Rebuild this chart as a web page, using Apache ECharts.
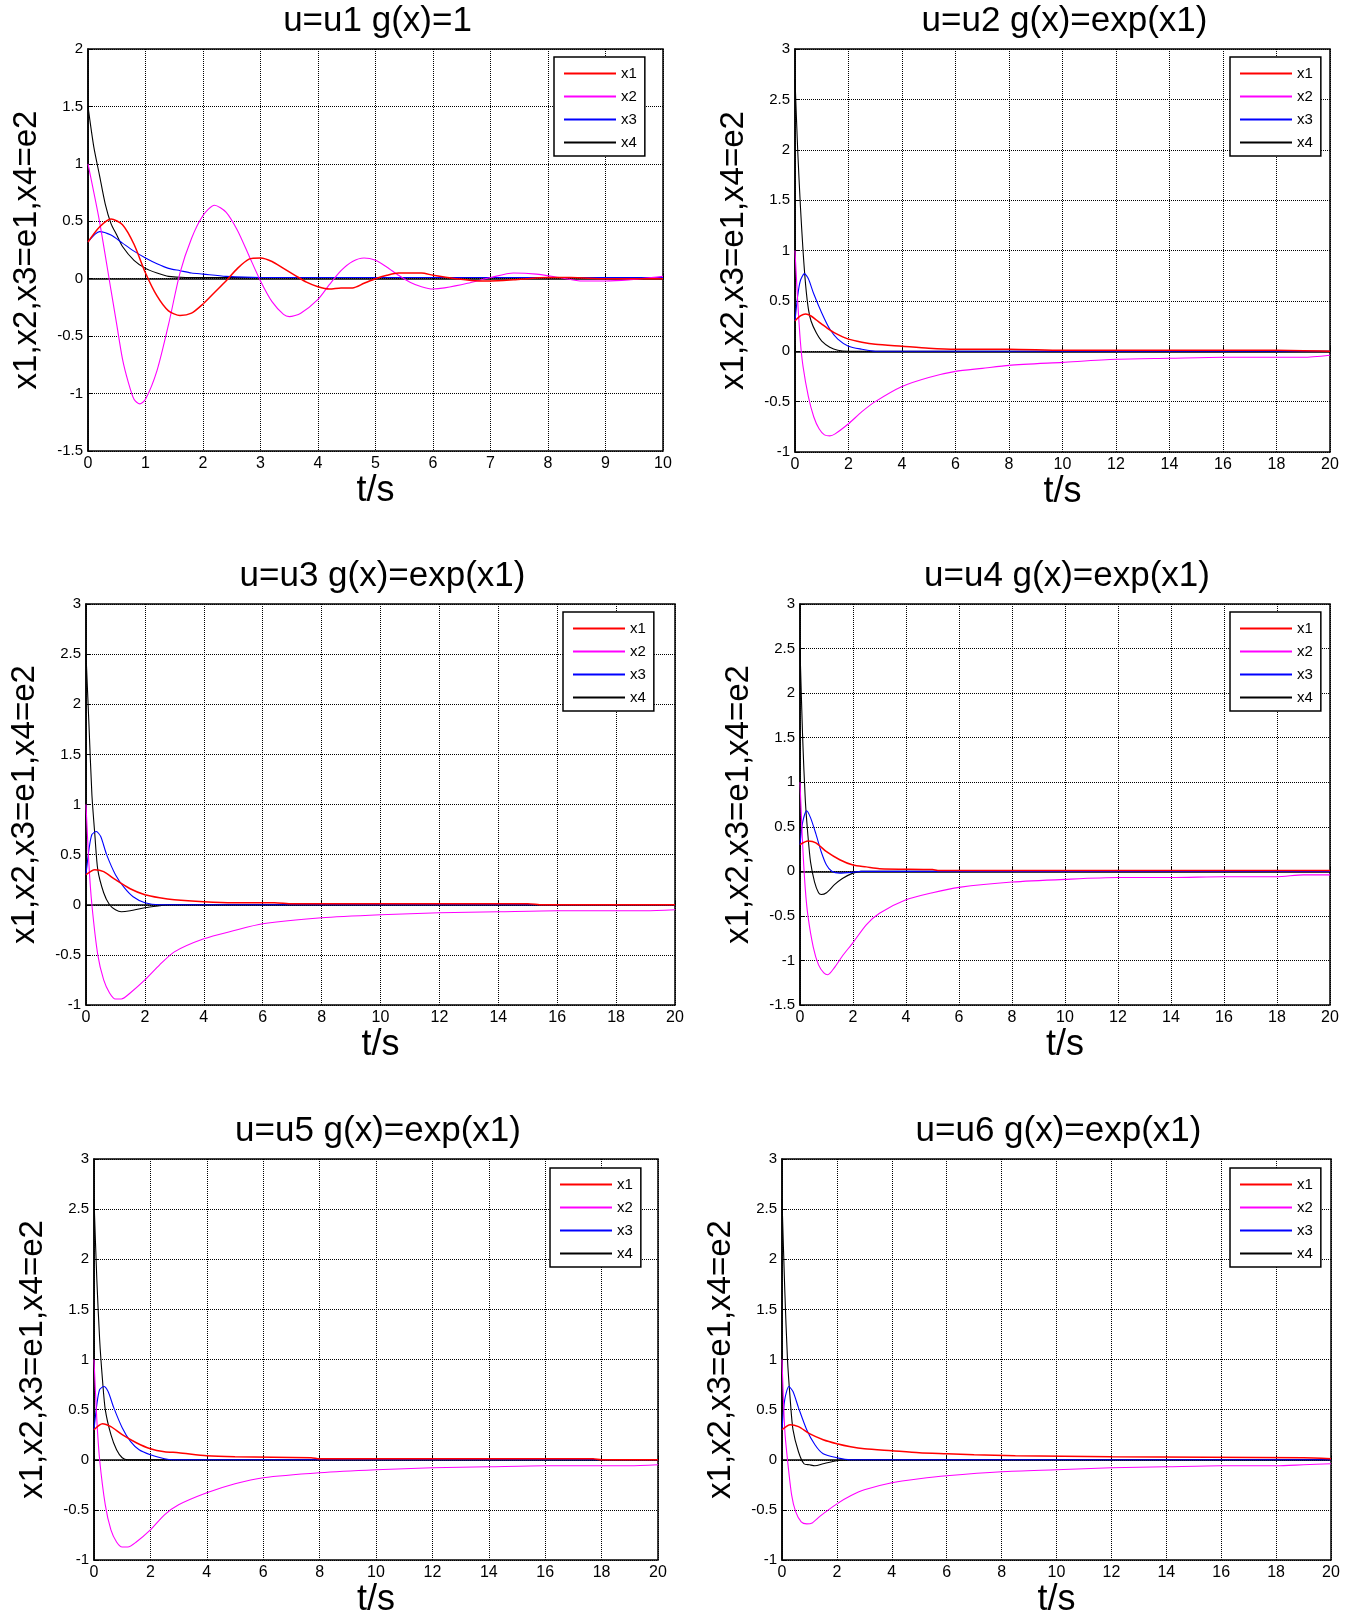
<!DOCTYPE html>
<html>
<head>
<meta charset="utf-8">
<script src="https://cdn.jsdelivr.net/npm/echarts@6/dist/echarts.min.js"></script>
<style>
  html, body { margin: 0; padding: 0; background: #fff; }
  #main { width: 1360px; height: 1624px; }
</style>
</head>
<body>
<div id="main"></div>
<script>
// series names shared by every panel
var names = ['x1', 'x2', 'x3', 'x4'];
var colors = ['#ff0000', '#ff00ff', '#0000ff', '#000000'];

// panel 1: u=u1 g(x)=1, t in [0,10]
var p1x1 = [[0,0.32],[0.2,0.45],[0.4,0.52],[0.6,0.47],[0.8,0.3],[1.0,0.05],[1.2,-0.15],[1.4,-0.28],[1.6,-0.32],[1.8,-0.3],[2.0,-0.22],[2.2,-0.12],[2.4,-0.02],[2.6,0.09],[2.8,0.17],[3.0,0.18],[3.2,0.15],[3.4,0.09],[3.6,0.03],[3.8,-0.03],[4.0,-0.07],[4.2,-0.09],[4.4,-0.08],[4.6,-0.08],[4.8,-0.04],[5.0,0],[5.2,0.03],[5.4,0.05],[5.8,0.05],[6.0,0.03],[6.4,0.0],[6.8,-0.02],[7.0,-0.02],[7.4,-0.01],[8.0,0.01],[8.4,0.01],[9.0,0],[10,0]];
var p1x2 = [[0,1.0],[0.2,0.5],[0.4,-0.1],[0.5,-0.4],[0.6,-0.7],[0.7,-0.9],[0.8,-1.05],[0.9,-1.09],[1.0,-1.05],[1.2,-0.8],[1.4,-0.4],[1.6,0.05],[1.8,0.35],[2.0,0.55],[2.2,0.64],[2.4,0.58],[2.6,0.42],[2.8,0.2],[3.0,-0.02],[3.2,-0.2],[3.4,-0.31],[3.5,-0.33],[3.7,-0.3],[4.0,-0.18],[4.2,-0.05],[4.4,0.07],[4.6,0.15],[4.8,0.18],[5.0,0.16],[5.2,0.1],[5.4,0.03],[5.6,-0.03],[5.8,-0.07],[6.0,-0.09],[6.2,-0.08],[6.6,-0.04],[7.0,0.01],[7.4,0.05],[7.8,0.04],[8.2,0.01],[8.6,-0.02],[9.0,-0.02],[9.4,-0.01],[10,0.02]];
var p1x3 = [[0,0.32],[0.2,0.41],[0.4,0.38],[0.6,0.31],[0.8,0.24],[1.0,0.18],[1.2,0.13],[1.4,0.09],[1.6,0.07],[1.8,0.05],[2.0,0.04],[2.4,0.02],[3.0,0.01],[10,0.01]];
var p1x4 = [[0,1.5],[0.1,1.15],[0.2,0.9],[0.3,0.65],[0.4,0.48],[0.5,0.38],[0.6,0.28],[0.8,0.16],[1.0,0.09],[1.2,0.05],[1.4,0.02],[1.7,0.01],[10,0.01]];

// panel 2: u=u2 g(x)=exp(x1), t in [0,20]
var p2x1 = [[0,0.3],[0.2,0.35],[0.4,0.37],[0.6,0.35],[0.8,0.31],[1.0,0.27],[1.2,0.23],[1.5,0.18],[2,0.12],[2.5,0.09],[3,0.07],[4,0.05],[5,0.03],[6,0.02],[8,0.02],[10,0.01],[18,0.01],[20,0.0]];
var p2x2 = [[0,1.0],[0.1,0.5],[0.2,0.1],[0.3,-0.15],[0.5,-0.45],[0.7,-0.65],[0.9,-0.77],[1.1,-0.83],[1.3,-0.84],[1.5,-0.82],[2,-0.72],[2.5,-0.6],[3,-0.5],[4,-0.35],[5,-0.26],[6,-0.2],[7,-0.17],[8,-0.14],[10,-0.11],[12,-0.08],[14,-0.07],[16,-0.06],[19,-0.06],[20,-0.04]];
var p2x3 = [[0,0.3],[0.1,0.55],[0.2,0.7],[0.35,0.77],[0.5,0.72],[0.7,0.57],[1.0,0.38],[1.3,0.22],[1.6,0.12],[2,0.05],[2.5,0.02],[3,0.0],[20,0]];
var p2x4 = [[0,2.7],[0.1,2.0],[0.2,1.45],[0.3,1.0],[0.4,0.65],[0.5,0.42],[0.6,0.3],[0.8,0.18],[1.0,0.1],[1.3,0.04],[1.6,0.01],[2,0.0],[20,0]];

// panel 3: u=u3
var p3x1 = [[0,0.3],[0.3,0.35],[0.6,0.33],[1.0,0.25],[1.5,0.16],[2,0.1],[2.5,0.07],[3,0.05],[4,0.03],[5,0.02],[6.4,0.02],[7,0.01],[15,0.01],[15.5,0],[20,0]];
var p3x2 = [[0,1.0],[0.1,0.4],[0.2,0.0],[0.4,-0.5],[0.6,-0.75],[0.8,-0.88],[1.0,-0.94],[1.2,-0.94],[1.5,-0.88],[2,-0.75],[2.5,-0.6],[3,-0.47],[4,-0.34],[5,-0.26],[6,-0.19],[8,-0.13],[10,-0.1],[12,-0.08],[14,-0.07],[16,-0.06],[19,-0.06],[20,-0.05]];
var p3x3 = [[0,0.3],[0.1,0.55],[0.2,0.7],[0.35,0.73],[0.5,0.68],[0.7,0.5],[1.0,0.3],[1.3,0.17],[1.6,0.08],[2,0.02],[2.5,0.0],[20,0]];
var p3x4 = [[0,2.5],[0.1,1.8],[0.2,1.1],[0.3,0.7],[0.4,0.35],[0.6,0.12],[0.8,0.0],[1.0,-0.05],[1.2,-0.07],[1.5,-0.06],[2,-0.03],[2.5,-0.01],[2.8,0],[20,0]];

// panel 4: u=u4
var p4x1 = [[0,0.3],[0.3,0.34],[0.6,0.32],[1.0,0.22],[1.5,0.13],[2,0.07],[2.5,0.05],[3,0.03],[5,0.02],[5.2,0.01],[20,0.01]];
var p4x2 = [[0,1.0],[0.1,0.3],[0.2,-0.2],[0.3,-0.5],[0.5,-0.85],[0.7,-1.05],[0.9,-1.14],[1.05,-1.16],[1.3,-1.08],[1.6,-0.95],[2,-0.8],[2.5,-0.6],[3,-0.47],[4,-0.32],[5,-0.24],[6,-0.18],[8,-0.12],[10,-0.09],[12,-0.07],[14,-0.07],[16,-0.06],[18,-0.06],[19,-0.04],[20,-0.04]];
var p4x3 = [[0,0.3],[0.1,0.55],[0.25,0.68],[0.4,0.6],[0.6,0.42],[0.8,0.22],[1.0,0.07],[1.2,0.0],[1.5,-0.02],[2,-0.01],[2.3,0],[20,0]];
var p4x4 = [[0,2.5],[0.1,1.5],[0.2,0.8],[0.3,0.4],[0.4,0.1],[0.55,-0.12],[0.7,-0.24],[0.8,-0.26],[1.0,-0.24],[1.3,-0.15],[1.6,-0.08],[2,-0.02],[2.3,0],[20,0]];

// panel 5: u=u5
var p5x1 = [[0,0.3],[0.3,0.36],[0.6,0.33],[1.0,0.25],[1.5,0.17],[2,0.11],[2.5,0.08],[3,0.07],[4,0.04],[5,0.03],[7.7,0.02],[8,0.01],[17.7,0.01],[18,0],[20,0]];
var p5x2 = [[0,1.0],[0.1,0.4],[0.2,0.0],[0.4,-0.45],[0.6,-0.7],[0.8,-0.82],[1.0,-0.87],[1.2,-0.87],[1.5,-0.82],[2,-0.7],[2.5,-0.55],[3,-0.45],[4,-0.33],[5,-0.24],[6,-0.18],[8,-0.13],[10,-0.1],[12,-0.08],[14,-0.07],[16,-0.06],[19,-0.06],[20,-0.05]];
var p5x3 = [[0,0.3],[0.1,0.55],[0.2,0.7],[0.35,0.73],[0.5,0.68],[0.7,0.52],[1.0,0.32],[1.3,0.18],[1.6,0.1],[2,0.05],[2.5,0.01],[2.8,0],[20,0]];
var p5x4 = [[0,2.6],[0.1,1.8],[0.2,1.2],[0.3,0.8],[0.4,0.5],[0.6,0.25],[0.8,0.1],[1.0,0.02],[1.2,0.0],[20,0]];

// panel 6: u=u6
var p6x1 = [[0,0.3],[0.3,0.35],[0.6,0.33],[1.0,0.26],[1.5,0.2],[2,0.16],[2.5,0.13],[3,0.11],[4,0.09],[5,0.07],[6,0.06],[7,0.05],[8.5,0.04],[12,0.03],[19,0.02],[20,0.01]];
var p6x2 = [[0,1.0],[0.1,0.3],[0.2,0.0],[0.35,-0.35],[0.5,-0.52],[0.7,-0.62],[0.9,-0.64],[1.1,-0.63],[1.4,-0.56],[2,-0.44],[2.5,-0.36],[3,-0.3],[4,-0.23],[5,-0.19],[6,-0.16],[8,-0.12],[10,-0.1],[12,-0.08],[14,-0.07],[16,-0.06],[18,-0.06],[19,-0.05],[20,-0.04]];
var p6x3 = [[0,0.3],[0.1,0.6],[0.25,0.73],[0.4,0.68],[0.6,0.52],[0.9,0.3],[1.2,0.15],[1.5,0.06],[2,0.02],[2.5,0.0],[20,0]];
var p6x4 = [[0,2.6],[0.1,1.7],[0.2,1.0],[0.3,0.6],[0.4,0.3],[0.6,0.08],[0.8,-0.04],[1.0,-0.05],[1.2,-0.06],[1.5,-0.04],[2,-0.01],[2.5,0],[20,0]];

var titles = ['u=u1 g(x)=1', 'u=u2 g(x)=exp(x1)', 'u=u3 g(x)=exp(x1)', 'u=u4 g(x)=exp(x1)', 'u=u5 g(x)=exp(x1)', 'u=u6 g(x)=exp(x1)'];
var xMax = [10, 20, 20, 20, 20, 20];
var yMin = [-1.5, -1, -1, -1.5, -1, -1];
var yMax = [2, 3, 3, 3, 3, 3];
var panelData = [
  [p1x1, p1x2, p1x3, p1x4],
  [p2x1, p2x2, p2x3, p2x4],
  [p3x1, p3x2, p3x3, p3x4],
  [p4x1, p4x2, p4x3, p4x4],
  [p5x1, p5x2, p5x3, p5x4],
  [p6x1, p6x2, p6x3, p6x4]
];

// layout in pixels
var boxes = [
  {left: 88, top: 49, width: 575, height: 402, lgLeft: 554, lgTop: 57},
  {left: 795, top: 49, width: 535, height: 403, lgLeft: 1230, lgTop: 57},
  {left: 86, top: 604, width: 589, height: 401, lgLeft: 563, lgTop: 612},
  {left: 800, top: 604, width: 530, height: 401, lgLeft: 1230, lgTop: 612},
  {left: 94, top: 1159, width: 564, height: 401, lgLeft: 550, lgTop: 1168},
  {left: 782, top: 1159, width: 549, height: 401, lgLeft: 1230, lgTop: 1168}
];

var font = 'Liberation Sans, Arial, sans-serif';
var option = {
  backgroundColor: '#fff',
  animation: false,
  textStyle: {fontFamily: font},
  title: [], legend: [], grid: [], xAxis: [], yAxis: [], series: []
};

boxes.forEach(function (b, i) {
  option.grid.push({
    left: b.left, top: b.top, width: b.width, height: b.height,
    show: true, borderColor: '#000', borderWidth: 1.5, containLabel: false
  });
  option.title.push({
    text: titles[i],
    left: b.left + b.width / 2 - 3, top: b.top - 50, textAlign: 'center',
    textStyle: {fontSize: 35, fontWeight: 'normal', color: '#000', fontFamily: font}
  });
  option.legend.push({
    data: names,
    orient: 'vertical', left: b.lgLeft, top: b.lgTop,
    backgroundColor: '#fff', borderColor: '#000', borderWidth: 1.5,
    padding: [9, 8, 6, 10], icon: 'rect', itemWidth: 52, itemHeight: 2, itemGap: 8,
    selectedMode: false,
    textStyle: {fontSize: 15, color: '#000', fontFamily: font}
  });
  var step = xMax[i] / 10;
  option.xAxis.push({
    type: 'value', gridIndex: i, min: 0, max: xMax[i], interval: step,
    name: 't/s', nameLocation: 'middle', nameGap: 22,
    nameTextStyle: {fontSize: 36, color: '#000', fontFamily: font},
    axisLine: {lineStyle: {color: '#000', width: 1.5}},
    axisTick: {inside: true, length: 5, lineStyle: {color: '#000'}},
    axisLabel: {fontSize: 16, color: '#000', margin: 5},
    splitLine: {show: true, lineStyle: {color: '#000', type: 'dotted', width: 1}}
  });
  option.yAxis.push({
    type: 'value', gridIndex: i, min: yMin[i], max: yMax[i], interval: 0.5,
    name: 'x1,x2,x3=e1,x4=e2', nameLocation: 'middle', nameGap: 45,
    nameTextStyle: {fontSize: 33, color: '#000', fontFamily: font},
    axisLine: {show: true, lineStyle: {color: '#000', width: 1.5}},
    axisTick: {show: true, inside: true, length: 5, lineStyle: {color: '#000'}},
    axisLabel: {fontSize: 15, color: '#000', margin: 5},
    splitLine: {show: true, lineStyle: {color: '#000', type: 'dotted', width: 1}}
  });
  panelData[i].forEach(function (d, k) {
    option.series.push({
      name: names[k], type: 'line', xAxisIndex: i, yAxisIndex: i,
      data: d, symbol: 'none', smooth: 0.25,
      lineStyle: {color: colors[k], width: k === 0 ? 1.5 : 1.1},
      itemStyle: {color: colors[k]},
      z: 10 - k
    });
  });
});

var myChart = echarts.init(document.getElementById('main'));
myChart.setOption(option);
</script>
</body>
</html>
